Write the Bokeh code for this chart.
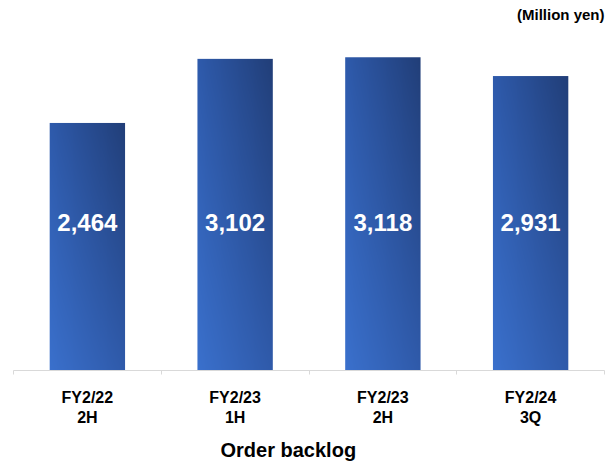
import numpy as np
from bokeh.plotting import figure
from bokeh.models import (Range1d, LinearAxis, FixedTicker, Title)
from bokeh.core.properties import value
from bokeh.embed import file_html
from bokeh.resources import INLINE

# ---- data ----
categories = ["FY2/22\n2H", "FY2/23\n1H", "FY2/23\n2H", "FY2/24\n3Q"]
backlog = [2464, 3102, 3118, 2931]
value_labels = ["2,464", "3,102", "3,118", "2,931"]
unit_label = "(Million yen)"
chart_title = "Order backlog"

FONT = "Liberation Sans"
BAR_W = 0.51

# gradient corner colours (bottom-left, bottom-right, top-left, top-right)
BL = np.array([0x3A, 0x70, 0xCC], dtype=float)
BR = np.array([0x2F, 0x5A, 0xAA], dtype=float)
TL = np.array([0x2E, 0x5A, 0xAB], dtype=float)
TR = np.array([0x21, 0x3E, 0x78], dtype=float)

n = len(categories)
centers = [i + 0.5 for i in range(n)]

# bilinear gradient texture for the bars
GH, GW = 320, 80
u = np.linspace(0, 1, GW)[None, :, None]
v = np.linspace(0, 1, GH)[:, None, None]
rgb = (BL * (1 - u) * (1 - v) + BR * u * (1 - v) + TL * (1 - u) * v + TR * u * v)
grad = np.empty((GH, GW), dtype=np.uint32)
view = grad.view(dtype=np.uint8).reshape((GH, GW, 4))
view[:, :, :3] = np.clip(np.round(rgb), 0, 255).astype(np.uint8)
view[:, :, 3] = 255

p = figure(x_range=Range1d(0, n),
           y_range=Range1d(0, 3474),
           width=609, height=469,
           output_backend="svg", toolbar_location=None,
           x_axis_location=None, y_axis_location=None,
           min_border_left=13, min_border_right=5,
           min_border_top=21, min_border_bottom=97)
p.outline_line_color = None
p.xgrid.visible = False
p.ygrid.visible = False
p.background_fill_color = "white"
p.border_fill_color = "white"

p.image_rgba(image=[grad] * n,
             x=[c - BAR_W / 2 for c in centers], y=[0] * n,
             dw=[BAR_W] * n, dh=backlog)

# value labels
p.text(x=centers, y=[1470] * n, text=value_labels,
       text_color="white", text_font=value(FONT), text_font_style="bold",
       text_font_size="24px", text_align="center", text_baseline="middle")

# category axis: line, separators (minor ticks) and labels
cat_axis = LinearAxis(ticker=FixedTicker(ticks=centers, minor_ticks=list(range(n + 1))),
                      major_label_overrides={c: lab for c, lab in zip(centers, categories)},
                      axis_line_color="#d9d9d9",
                      major_tick_out=0, major_tick_in=0,
                      minor_tick_out=4, minor_tick_in=0,
                      minor_tick_line_color="#d9d9d9",
                      major_label_text_font=FONT,
                      major_label_text_font_style="bold",
                      major_label_text_font_size="16px",
                      major_label_text_color="black",
                      major_label_standoff=14)
p.add_layout(cat_axis, "below")

p.add_layout(Title(text=chart_title, align="left", offset=207,
                   text_font=FONT, text_font_style="bold",
                   text_font_size="20px", text_color="black",
                   standoff=17), "below")

p.add_layout(Title(text=unit_label, align="right", text_font=FONT,
                   text_font_style="bold", text_font_size="15px",
                   text_color="black", standoff=-3), "above")

open("out.html", "w").write(file_html(p, INLINE))
